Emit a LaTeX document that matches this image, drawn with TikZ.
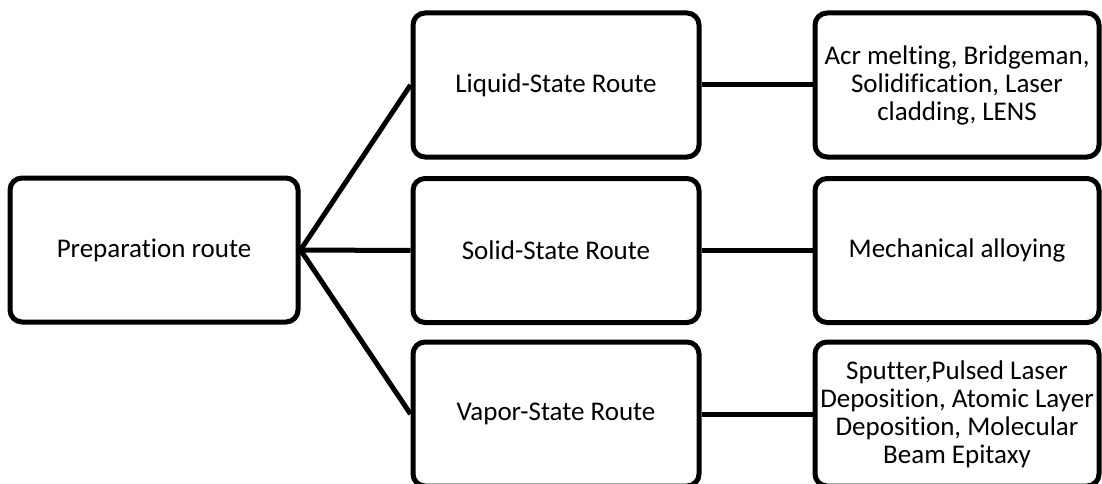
\documentclass[tikz,border=0pt]{standalone}
\usepackage{fontspec}
\setmainfont{Carlito}[Ligatures=NoCommon]
\usepackage{tikz}
\usetikzlibrary{positioning}

\begin{document}
\begin{tikzpicture} [x=1pt,y=-1pt,line width=5pt,every node/.style={draw,rectangle,rounded corners=12pt,minimum height=144pt,align=center,font=\fontsize{27}{28}\selectfont}]
\useasboundingbox (0,0) rectangle (1102,484);
\node[minimum width=288pt] (P) at (154,250) {Preparation route};
\node[minimum width=286pt] (L) at (556,85) {Liquid-State Route};
\node[minimum width=286pt] (S) at (556,250.5) {Solid-State Route};
\node[minimum width=286pt] (V) at (556,414) {Vapor-State Route};
\node[minimum width=284pt] (LM) at (957,85) {Acr melting, Bridgeman,\\Solidification, Laser\\cladding, LENS};
\node[minimum width=284pt] (SM) at (957,250.5) {Mechanical alloying};
\node[minimum width=284pt] (VM) at (957,414) {Sputter,Pulsed Laser\\Deposition, Atomic Layer\\Deposition, Molecular\\Beam Epitaxy};

\foreach \from/\to in {P/L,P/S,P/V,L/LM,S/SM,V/VM}
\draw (\from.east) -- (\to.west);
\end{tikzpicture}
\end{document}
